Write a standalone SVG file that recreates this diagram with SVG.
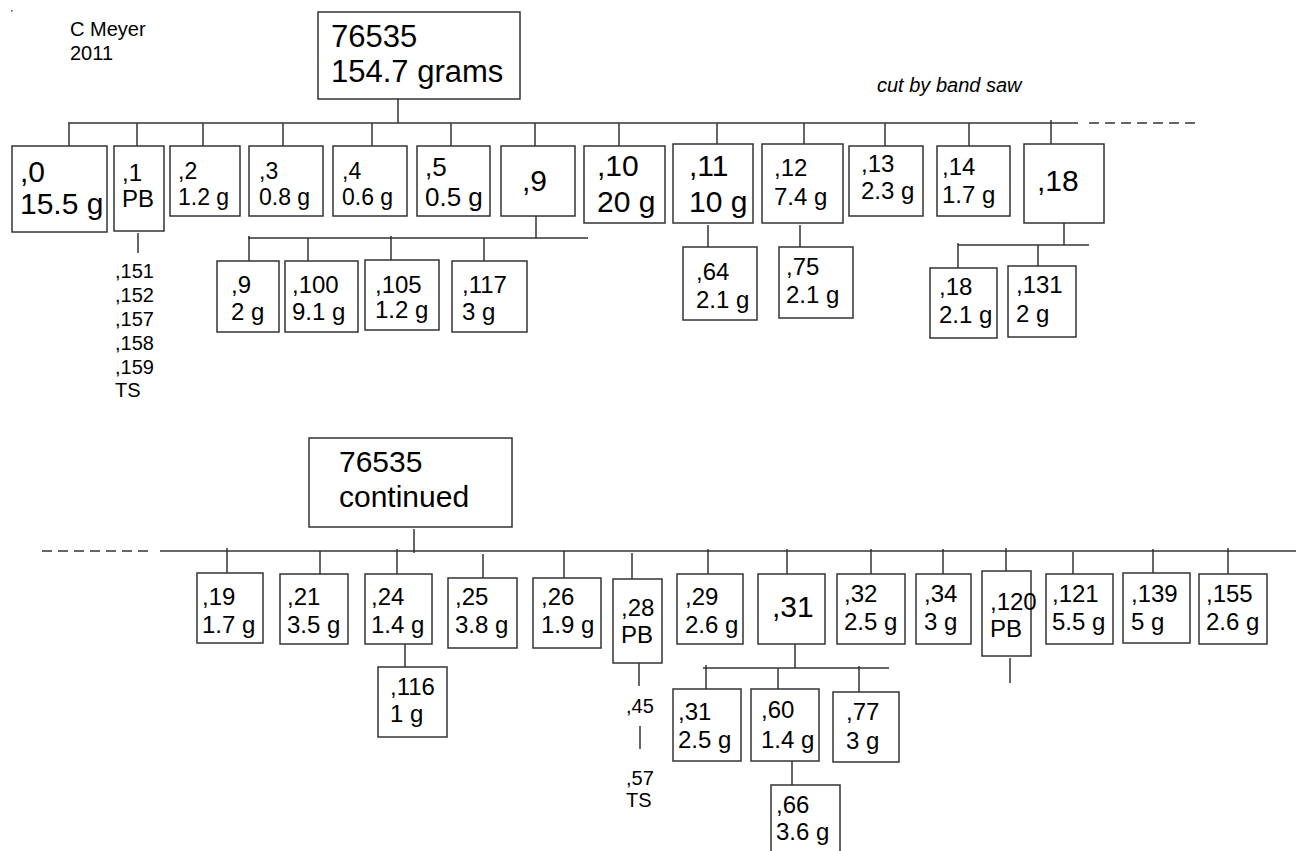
<svg xmlns="http://www.w3.org/2000/svg" width="1296" height="851" viewBox="0 0 1296 851">
<style>
text{font-family:"Liberation Sans",Arial,sans-serif;fill:#000}
.b{fill:#fff;stroke:#333;stroke-width:1.5}
.c line{stroke:#333;stroke-width:1.5}
.d{stroke-dasharray:10 6}
.m{font-size:24px}
.n{font-size:23px}
.l{font-size:30px}
.s{font-size:20px}
</style>
<rect width="1296" height="851" fill="#fff"/>
<rect x="11" y="10" width="1.5" height="1.5" fill="#444"/>
<text class="s" x="70" y="36">C Meyer</text>
<text class="s" x="70" y="60">2011</text>
<text x="877" y="92" font-size="20" font-style="italic">cut by band saw</text>

<g class="c" id="connectors">
<line x1="398" y1="99" x2="398" y2="123"/>
<line x1="68" y1="123" x2="1078" y2="123"/>
<line class="d" x1="1089" y1="123" x2="1195" y2="123"/>
<line x1="69" y1="123" x2="69" y2="146"/>
<line x1="137" y1="123" x2="137" y2="146"/>
<line x1="203" y1="123" x2="203" y2="146"/>
<line x1="283" y1="123" x2="283" y2="146"/>
<line x1="372" y1="123" x2="372" y2="146"/>
<line x1="451" y1="123" x2="451" y2="146"/>
<line x1="535" y1="123" x2="535" y2="146"/>
<line x1="619" y1="123" x2="619" y2="146"/>
<line x1="717" y1="123" x2="717" y2="144"/>
<line x1="804" y1="123" x2="804" y2="144"/>
<line x1="885" y1="123" x2="885" y2="146"/>
<line x1="969" y1="123" x2="969" y2="146"/>
<line x1="1051" y1="120" x2="1051" y2="146"/>
<line x1="138" y1="233" x2="138" y2="253"/>
<line x1="536" y1="216" x2="536" y2="238"/>
<line x1="248" y1="238" x2="588" y2="238"/>
<line x1="249" y1="236" x2="249" y2="261"/>
<line x1="308" y1="238" x2="308" y2="261"/>
<line x1="391" y1="236" x2="391" y2="260"/>
<line x1="484" y1="238" x2="484" y2="261"/>
<line x1="708" y1="225" x2="708" y2="247"/>
<line x1="800" y1="225" x2="800" y2="247"/>
<line x1="1064" y1="220" x2="1064" y2="245"/>
<line x1="958" y1="245" x2="1089" y2="245"/>
<line x1="958" y1="243" x2="958" y2="268"/>
<line x1="1038" y1="245" x2="1038" y2="266"/>
<line x1="414" y1="529" x2="414" y2="553"/>
<line class="d" x1="42" y1="551" x2="148" y2="551"/>
<line x1="160" y1="551" x2="1296" y2="551"/>
<line x1="227" y1="548" x2="227" y2="573"/>
<line x1="320" y1="551" x2="320" y2="574"/>
<line x1="397" y1="549" x2="397" y2="574"/>
<line x1="483" y1="554" x2="483" y2="578"/>
<line x1="564" y1="551" x2="564" y2="578"/>
<line x1="632" y1="553" x2="632" y2="579"/>
<line x1="708" y1="549" x2="708" y2="574"/>
<line x1="787" y1="549" x2="787" y2="574"/>
<line x1="871" y1="549" x2="871" y2="574"/>
<line x1="943" y1="549" x2="943" y2="574"/>
<line x1="1006" y1="548" x2="1006" y2="573"/>
<line x1="1073" y1="552" x2="1073" y2="574"/>
<line x1="1153" y1="549" x2="1153" y2="574"/>
<line x1="1228" y1="548" x2="1228" y2="574"/>
<line x1="405" y1="644" x2="405" y2="667"/>
<line x1="639" y1="663" x2="639" y2="686"/>
<line x1="640" y1="726" x2="640" y2="749"/>
<line x1="795" y1="643" x2="795" y2="668"/>
<line x1="703" y1="668" x2="889" y2="668"/>
<line x1="706" y1="665" x2="706" y2="689"/>
<line x1="778" y1="668" x2="778" y2="689"/>
<line x1="859" y1="666" x2="859" y2="692"/>
<line x1="792" y1="761" x2="792" y2="785"/>
<line x1="1010" y1="658" x2="1010" y2="683"/>
</g>

<g id="root"><rect class="b" x="318" y="12" width="202" height="87"/><text x="331" y="47" font-size="31">76535</text><text x="331" y="82" font-size="31">154.7 grams</text></g>
<g id="n0"><rect class="b" x="12" y="146" width="95" height="86"/><text x="20" y="182" font-size="30">,0</text><text x="20" y="214" font-size="30">15.5 g</text></g>
<g id="n1"><rect class="b" x="114" y="146" width="50" height="85"/><text class="m" x="122" y="181">,1</text><text class="m" x="122" y="207">PB</text></g>
<g id="n1list"><text class="s" x="115" y="278">,151</text><text class="s" x="115" y="302">,152</text><text class="s" x="115" y="326">,157</text><text class="s" x="115" y="350">,158</text><text class="s" x="115" y="374">,159</text><text class="s" x="115" y="397">TS</text></g>
<g id="n2"><rect class="b" x="170" y="146" width="70" height="70"/><text class="n" x="178" y="179">,2</text><text class="n" x="178" y="205">1.2 g</text></g>
<g id="n3"><rect class="b" x="249" y="146" width="74" height="70"/><text class="n" x="259" y="179">,3</text><text class="n" x="259" y="205">0.8 g</text></g>
<g id="n4"><rect class="b" x="333" y="146" width="74" height="70"/><text class="n" x="342" y="179">,4</text><text class="n" x="342" y="205">0.6 g</text></g>
<g id="n5"><rect class="b" x="417" y="146" width="73" height="70"/><text x="425" y="176" font-size="26">,5</text><text x="425" y="206" font-size="26">0.5 g</text></g>
<g id="n9"><rect class="b" x="501" y="146" width="74" height="70"/><text class="l" x="522" y="191">,9</text></g>
<g id="n10"><rect class="b" x="584" y="146" width="81" height="77"/><text class="l" x="597" y="176">,10</text><text class="l" x="597" y="212">20 g</text></g>
<g id="n11"><rect class="b" x="673" y="144" width="80" height="79"/><text class="l" x="689" y="176">,11</text><text class="l" x="689" y="212">10 g</text></g>
<g id="n12"><rect class="b" x="762" y="144" width="81" height="79"/><text class="m" x="774" y="176">,12</text><text class="m" x="774" y="205">7.4 g</text></g>
<g id="n13"><rect class="b" x="849" y="146" width="74" height="70"/><text class="m" x="861" y="172">,13</text><text class="m" x="861" y="199">2.3 g</text></g>
<g id="n14"><rect class="b" x="937" y="146" width="73" height="70"/><text class="m" x="942" y="175">,14</text><text class="m" x="942" y="203">1.7 g</text></g>
<g id="n18"><rect class="b" x="1024" y="144" width="80" height="79"/><text class="l" x="1037" y="191">,18</text></g>
<g id="c9"><rect class="b" x="217" y="261" width="62" height="71"/><text class="m" x="231" y="293">,9</text><text class="m" x="231" y="320">2 g</text></g>
<g id="c100"><rect class="b" x="285" y="261" width="73" height="71"/><text class="m" x="292" y="293">,100</text><text class="m" x="292" y="320">9.1 g</text></g>
<g id="c105"><rect class="b" x="365" y="260" width="74" height="70"/><text class="m" x="375" y="293">,105</text><text class="m" x="375" y="318">1.2 g</text></g>
<g id="c117"><rect class="b" x="452" y="261" width="75" height="71"/><text class="m" x="462" y="293">,117</text><text class="m" x="462" y="320">3 g</text></g>
<g id="c64"><rect class="b" x="683" y="247" width="74" height="73"/><text class="m" x="696" y="280">,64</text><text class="m" x="696" y="308">2.1 g</text></g>
<g id="c75"><rect class="b" x="779" y="247" width="74" height="71"/><text class="m" x="786" y="275">,75</text><text class="m" x="786" y="303">2.1 g</text></g>
<g id="c18"><rect class="b" x="930" y="268" width="67" height="70"/><text class="m" x="939" y="295">,18</text><text class="m" x="939" y="323">2.1 g</text></g>
<g id="c131"><rect class="b" x="1008" y="266" width="68" height="71"/><text class="m" x="1016" y="293">,131</text><text class="m" x="1016" y="322">2 g</text></g>

<g id="root2"><rect class="b" x="309" y="438" width="203" height="89"/><text class="l" x="339" y="472">76535</text><text class="l" x="339" y="507">continued</text></g>
<g id="b19"><rect class="b" x="197" y="573" width="66" height="70"/><text class="m" x="202" y="605">,19</text><text class="m" x="202" y="633">1.7 g</text></g>
<g id="b21"><rect class="b" x="280" y="574" width="68" height="70"/><text class="m" x="287" y="605">,21</text><text class="m" x="287" y="633">3.5 g</text></g>
<g id="b24"><rect class="b" x="365" y="574" width="67" height="70"/><text class="m" x="371" y="605">,24</text><text class="m" x="371" y="633">1.4 g</text></g>
<g id="b116"><rect class="b" x="378" y="667" width="69" height="70"/><text class="m" x="390" y="695">,116</text><text class="m" x="390" y="722">1 g</text></g>
<g id="b25"><rect class="b" x="448" y="578" width="69" height="70"/><text class="m" x="455" y="605">,25</text><text class="m" x="455" y="633">3.8 g</text></g>
<g id="b26"><rect class="b" x="533" y="578" width="68" height="70"/><text class="m" x="541" y="605">,26</text><text class="m" x="541" y="633">1.9 g</text></g>
<g id="b28"><rect class="b" x="613" y="579" width="49" height="84"/><text class="m" x="621" y="616">,28</text><text class="m" x="621" y="643">PB</text></g>
<g id="b28list"><text class="s" x="626" y="713">,45</text><text class="s" x="626" y="785">,57</text><text class="s" x="626" y="807">TS</text></g>
<g id="b29"><rect class="b" x="677" y="574" width="66" height="70"/><text class="m" x="685" y="605">,29</text><text class="m" x="685" y="633">2.6 g</text></g>
<g id="b31"><rect class="b" x="758" y="574" width="67" height="70"/><text class="l" x="772" y="617">,31</text></g>
<g id="s31"><rect class="b" x="673" y="689" width="68" height="72"/><text class="m" x="678" y="720">,31</text><text class="m" x="678" y="748">2.5 g</text></g>
<g id="s60"><rect class="b" x="751" y="689" width="68" height="72"/><text class="m" x="761" y="718">,60</text><text class="m" x="761" y="748">1.4 g</text></g>
<g id="s77"><rect class="b" x="833" y="692" width="66" height="70"/><text class="m" x="846" y="720">,77</text><text class="m" x="846" y="749">3 g</text></g>
<g id="s66"><rect class="b" x="771" y="785" width="69" height="80"/><text class="m" x="776" y="813">,66</text><text class="m" x="776" y="840">3.6 g</text></g>
<g id="b32"><rect class="b" x="837" y="574" width="68" height="70"/><text class="m" x="844" y="602">,32</text><text class="m" x="844" y="630">2.5 g</text></g>
<g id="b34"><rect class="b" x="916" y="574" width="55" height="70"/><text class="m" x="924" y="602">,34</text><text class="m" x="924" y="630">3 g</text></g>
<g id="b120"><rect class="b" x="982" y="571" width="49" height="85"/><text class="m" x="990" y="610">,120</text><text class="m" x="990" y="637">PB</text></g>
<g id="b121"><rect class="b" x="1046" y="574" width="67" height="70"/><text class="m" x="1052" y="602">,121</text><text class="m" x="1052" y="630">5.5 g</text></g>
<g id="b139"><rect class="b" x="1123" y="573" width="67" height="70"/><text class="m" x="1131" y="602">,139</text><text class="m" x="1131" y="630">5 g</text></g>
<g id="b155"><rect class="b" x="1199" y="574" width="68" height="70"/><text class="m" x="1206" y="602">,155</text><text class="m" x="1206" y="630">2.6 g</text></g>
</svg>
